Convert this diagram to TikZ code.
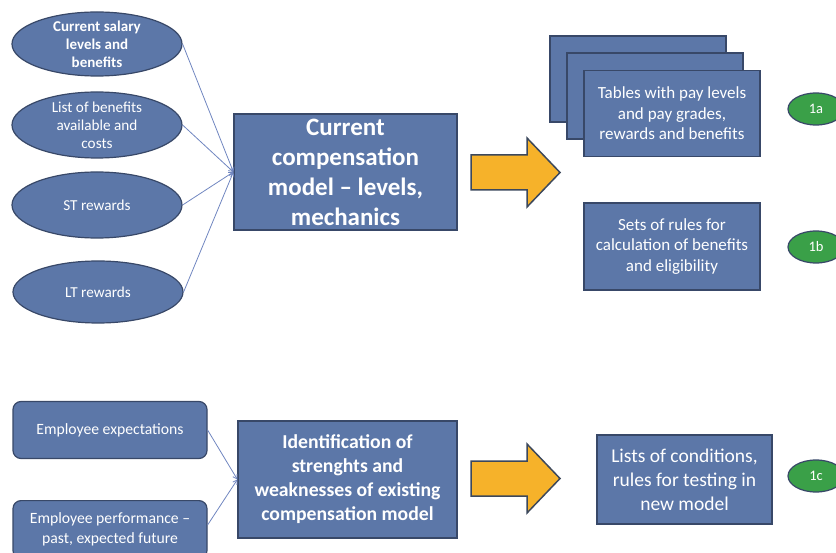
\documentclass[tikz,border=0pt]{standalone}
\usepackage{fontspec}
\setmainfont{Carlito}
\usetikzlibrary{shapes.geometric, arrows.meta}
\definecolor{boxblue}{RGB}{92,119,168}
\definecolor{boxedge}{RGB}{56,72,104}
\definecolor{linkblue}{RGB}{112,134,192}
\definecolor{arroworange}{RGB}{246,178,42}
\definecolor{arrowedge}{RGB}{60,72,92}
\definecolor{badgegreen}{RGB}{58,160,72}
\tikzset{
  bluebox/.style={draw=boxedge, line width=1.2pt, fill=boxblue, text=white, align=center, inner sep=0pt},
  ovalbox/.style={bluebox, ellipse, inner sep=-7pt, minimum width=170pt, font=\fontsize{15.2}{18}\selectfont},
  rbox/.style={bluebox, rounded corners=8pt, minimum width=194pt, font=\fontsize{15.7}{20}\selectfont},
  stackbox/.style={bluebox, minimum width=176pt, minimum height=86pt, font=\fontsize{17}{20.5}\selectfont},
  badge/.style={draw=boxedge, line width=1.2pt, fill=badgegreen, text=white, ellipse, minimum width=56pt, minimum height=32pt, inner sep=-3pt, font=\fontsize{14.5}{15}\selectfont},
  link/.style={draw=linkblue, line width=0.8pt, -{Straight Barb[length=4pt,width=5pt]}},
  blockarrow/.style={draw=arrowedge, line width=1.5pt, fill=arroworange, line join=miter}
}
\begin{document}
\begin{tikzpicture}[x=1pt,y=-1pt]
\useasboundingbox (0,0) rectangle (836,553);

% ---- upper part ----
\node[ovalbox, minimum height=64pt, font=\bfseries\fontsize{15}{18}\selectfont] (e1) at (97,44) {Current salary\\levels and\\benefits};
\node[ovalbox, minimum height=66pt] (e2) at (97,125) {List of benefits\\available and\\costs};
\node[ovalbox, minimum height=66pt] (e3) at (97,205) {ST rewards};
\node[ovalbox, minimum height=62pt] (e4) at (98,292) {LT rewards};

\node[bluebox, minimum width=223pt, minimum height=116pt, font=\bfseries\fontsize{25}{30}\selectfont] (m1) at (345.5,172) {Current\\compensation\\model -- levels,\\mechanics};

\foreach \e in {e1,e2,e3,e4} \draw[link] (\e.east) -- (m1.west);

\draw[blockarrow] (471,155) -- (527,155) -- (527,138) -- (560,172.5) -- (527,207) -- (527,190) -- (471,190) -- cycle;

\node[stackbox] (s3) at (638,79) {};
\node[stackbox] (s2) at (655,96) {};
\node[stackbox] (s1) at (672,113.5) {Tables with pay levels\\and pay grades,\\rewards and benefits};
\node[badge] (b1) at (816,109) {1a};

\node[stackbox, minimum height=87pt] (r1) at (672,246.5) {Sets of rules for\\calculation of benefits\\and eligibility};
\node[badge] (b2) at (816,247) {1b};

% ---- lower part ----
\node[rbox, minimum height=57pt] (p1) at (110,430) {Employee expectations};
\node[rbox, minimum height=58pt, anchor=north] (p2) at (110,500) {Employee performance --\\past, expected future};

\node[bluebox, minimum width=219pt, minimum height=117pt, font=\bfseries\fontsize{19.7}{24}\selectfont] (m2) at (347.5,479.5) {Identification of\\strenghts and\\weaknesses of existing\\compensation model};

\draw[link] (p1.east) -- (m2.west);
\draw[link] (p2.east |- 0,525) -- (m2.west);

\draw[blockarrow] (471,461) -- (527,461) -- (527,444) -- (560,478.5) -- (527,513) -- (527,496) -- (471,496) -- cycle;

\node[bluebox, minimum width=175pt, minimum height=89pt, font=\fontsize{19.5}{24}\selectfont] (r2) at (684.5,479.5) {Lists of conditions,\\rules for testing in\\new model};
\node[badge] (b3) at (816,476) {1c};
\end{tikzpicture}
\end{document}
